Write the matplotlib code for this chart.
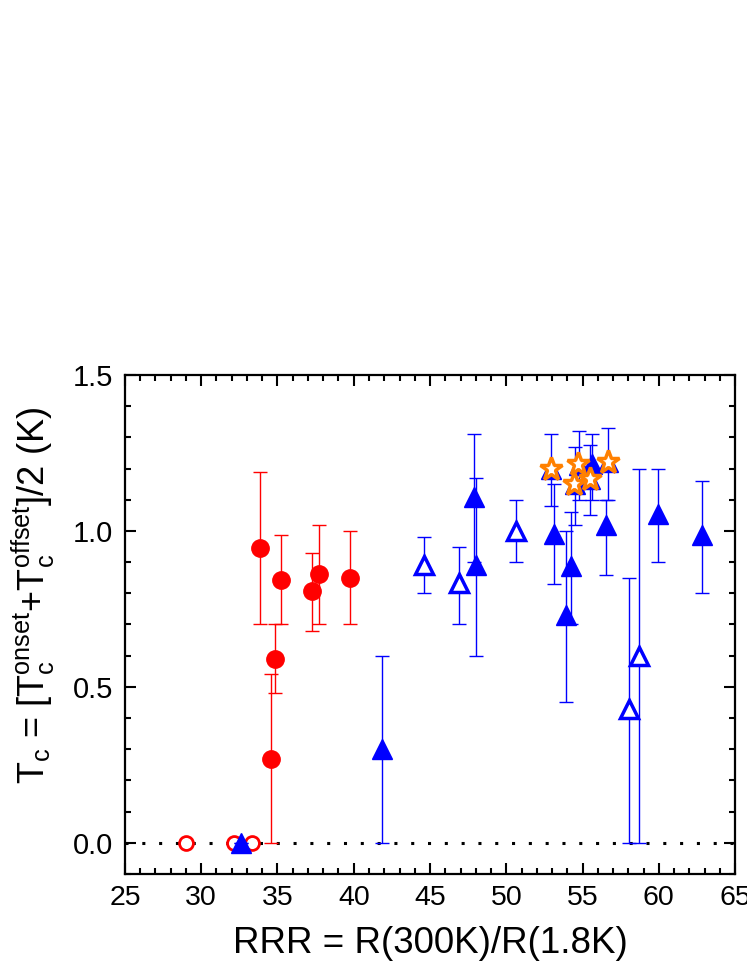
import numpy as np
import matplotlib
matplotlib.use('Agg')
import matplotlib.pyplot as plt
from matplotlib.ticker import MultipleLocator, FormatStrFormatter

plt.rcParams['font.family'] = ['Liberation Sans', 'DejaVu Sans']

# red filled circles (with error bars)
rc_x = [33.85, 35.25, 37.24, 37.74, 39.73, 34.84, 34.55]
rc_y = [0.945, 0.844, 0.806, 0.862, 0.850, 0.589, 0.268]
rc_lo = [0.70, 0.70, 0.68, 0.70, 0.70, 0.48, 0.0]
rc_hi = [1.19, 0.988, 0.93, 1.02, 1.00, 0.70, 0.54]

# red open circles (no Tc)
ro_x = [29.0, 32.15, 33.3]
ro_y = [0.0, 0.0, 0.0]

# blue filled triangles
bt_x = [32.58, 41.83, 47.9, 48.0, 53.13, 54.22, 53.92, 56.52, 59.93, 62.82,
        52.9, 54.5, 54.75, 55.5, 55.6, 56.7]
bt_y = [0.0, 0.30, 1.11, 0.89, 0.99, 0.887, 0.73, 1.018, 1.055, 0.986,
        1.20, 1.15, 1.21, 1.165, 1.215, 1.22]
bt_lo = [0.0, 0.0, 0.90, 0.60, 0.83, 0.70, 0.45, 0.86, 0.90, 0.80,
         1.08, 1.02, 1.10, 1.05, 1.10, 1.10]
bt_hi = [0.0, 0.60, 1.31, 1.17, 1.15, 1.06, 1.00, 1.10, 1.20, 1.16,
         1.31, 1.27, 1.32, 1.275, 1.31, 1.33]

# blue open triangles
bo_x = [44.63, 46.92, 50.64, 58.07, 58.7]
bo_y = [0.89, 0.833, 1.00, 0.43, 0.60]
bo_lo = [0.80, 0.70, 0.90, 0.0, 0.0]
bo_hi = [0.98, 0.95, 1.10, 0.85, 1.20]

# orange stars
st_x = [52.9, 54.47, 54.73, 55.49, 56.7]
st_y = [1.197, 1.15, 1.216, 1.165, 1.22]

fig = plt.figure(figsize=(7.47, 9.67), dpi=100)
ax = fig.add_axes([0.1673, 0.0962, 0.8167, 0.516])

ax.axhline(0, color='k', linestyle=(0, (1, 4.5)), linewidth=2.2, zorder=1)

def errs(y, lo, hi):
    y = np.array(y)
    return [y - np.array(lo), np.array(hi) - y]

ax.errorbar(rc_x, rc_y, yerr=errs(rc_y, rc_lo, rc_hi), fmt='o', color='red',
            ms=12.5, elinewidth=1, capsize=5, capthick=1, zorder=3)
ax.plot(ro_x, ro_y, 'o', mfc='white', mec='red', mew=2, ms=10, zorder=3)
ax.errorbar(bt_x, bt_y, yerr=errs(bt_y, bt_lo, bt_hi), fmt='^', color='blue',
            ms=14.5, elinewidth=1, capsize=5, capthick=1, zorder=3)
ax.errorbar(bo_x, bo_y, yerr=errs(bo_y, bo_lo, bo_hi), fmt='none',
            ecolor='blue', elinewidth=1, capsize=5, capthick=1, zorder=3)
ax.plot(bo_x, bo_y, '^', mfc='white', mec='blue', mew=2.5, ms=13, zorder=4)
ax.plot(st_x, st_y, '*', mfc='white', mec='#ff8000', mew=2.5, ms=17, zorder=5)

ax.set_xlim(25, 65)
ax.set_ylim(-0.1, 1.5)
ax.xaxis.set_major_locator(MultipleLocator(5))
ax.xaxis.set_minor_locator(MultipleLocator(1))
ax.yaxis.set_major_locator(MultipleLocator(0.5))
ax.yaxis.set_minor_locator(MultipleLocator(0.1))
ax.yaxis.set_major_formatter(FormatStrFormatter('%.1f'))
ax.tick_params(which='both', direction='in', top=True, right=True, width=1.5)
ax.tick_params(which='major', length=8)
ax.tick_params(which='minor', length=4.5)
ax.tick_params(axis='x', labelsize=20.5, pad=8)
ax.tick_params(axis='y', labelsize=21, pad=8.5)
for s in ax.spines.values():
    s.set_linewidth(1.6)

ax.set_xlabel('RRR = R(300K)/R(1.8K)', fontsize=26.5)
ax.xaxis.set_label_coords(0.5, -0.104)
ax.set_ylabel(r'T$_\mathregular{c}$ = [T$_\mathregular{c}^\mathregular{onset}$+T$_\mathregular{c}^\mathregular{offset}$]/2 (K)',
              fontsize=26)
ax.yaxis.set_label_coords(-0.111, 0.559)

fig.savefig('out.png', dpi=100)
